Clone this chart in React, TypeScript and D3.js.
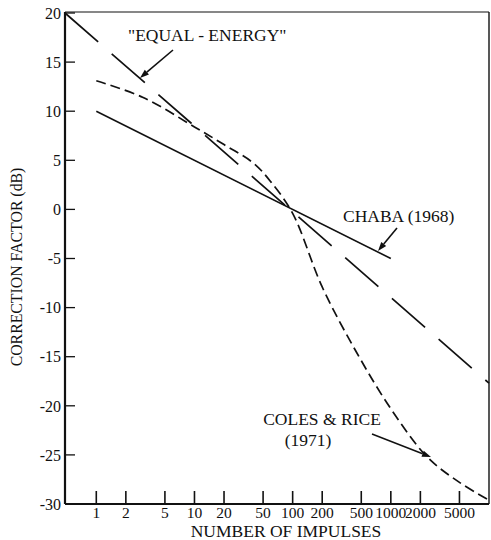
import React from 'react';
import * as d3 from 'd3';

const xTicks = [1, 2, 5, 10, 20, 50, 100, 200, 500, 1000, 2000, 5000];
const yTicks = [20, 15, 10, 5, 0, -5, -10, -15, -20, -25, -30];

const equalEnergyN = [0.48, 10000];
const equalEnergyDb = [20, -17.7];

const chabaN = [1, 1000];
const chabaDb = [10, -5];

const colesN = [1, 3, 10, 20, 40, 60, 100, 200, 450, 1000, 2340, 5000, 10000];
const colesDb = [13.1, 11.4, 8.4, 6.6, 4.7, 2.8, -0.4, -7.9, -14.6, -20.3, -25.2, -27.8, -29.6];

const W = 491;
const H = 540;
const L = 65, R = 489, T = 12, B = 504;

const FONT = '"Times New Roman", "Liberation Serif", Times, "DejaVu Serif", serif';
const INK = '#111';

export default function App() {
  const x = d3.scaleLog().domain([0.48, 10000]).range([L, R]);
  const y = d3.scaleLinear().domain([-30, 20]).range([B, T + 1]);

  const line = d3.line<[number, number]>().x(d => x(d[0])).y(d => y(d[1]));
  const curve = d3.line<[number, number]>().x(d => x(d[0])).y(d => y(d[1])).curve(d3.curveCatmullRom.alpha(0.5));

  const ee = line(equalEnergyN.map((n, i) => [n, equalEnergyDb[i]] as [number, number])) || '';
  const ch = line(chabaN.map((n, i) => [n, chabaDb[i]] as [number, number])) || '';
  const co = curve(colesN.map((n, i) => [n, colesDb[i]] as [number, number])) || '';

  const arrow = (x1: number, y1: number, x2: number, y2: number, key: string) => {
    const ang = Math.atan2(y2 - y1, x2 - x1);
    const len = 9, wid = 3.2;
    const bx = x2 - len * Math.cos(ang), by = y2 - len * Math.sin(ang);
    const px = -Math.sin(ang) * wid, py = Math.cos(ang) * wid;
    return (
      <g key={key}>
        <line x1={x1} y1={y1} x2={bx} y2={by} stroke={INK} strokeWidth={1.6} />
        <path d={`M${x2},${y2}L${bx + px},${by + py}L${bx - px},${by - py}Z`} fill={INK} />
      </g>
    );
  };

  const txt = { fontFamily: FONT, fill: INK } as const;

  return (
    <svg width={W} height={H} style={{ position: 'absolute', left: 0, top: 0, background: '#fff' }}>
      <rect x={0} y={0} width={W} height={H} fill="#fff" />
      {/* frame */}
      <line x1={L} y1={T} x2={R} y2={T} stroke={INK} strokeWidth={1.2} />
      <line x1={R} y1={T} x2={R} y2={B} stroke={INK} strokeWidth={1.4} />
      <line x1={L} y1={T} x2={L} y2={B} stroke={INK} strokeWidth={2.2} />
      <line x1={L} y1={B} x2={R} y2={B} stroke={INK} strokeWidth={2.2} />

      {/* y ticks */}
      {yTicks.map(t => (
        <g key={'y' + t}>
          <line x1={L} x2={L + 10} y1={y(t)} y2={y(t)} stroke={INK} strokeWidth={1.3} />
          <text x={61} y={y(t)} dy="0.36em" textAnchor="end" fontSize={16} style={txt}>
            {t}
          </text>
        </g>
      ))}

      {/* x ticks */}
      {xTicks.map(t => (
        <g key={'x' + t}>
          <line x1={x(t)} x2={x(t)} y1={B} y2={B - 13} stroke={INK} strokeWidth={1.6} />
          <text x={x(t)} y={518} textAnchor="middle" fontSize={15.5} style={txt}>
            {t}
          </text>
        </g>
      ))}

      {/* series */}
      <path d={ee} fill="none" stroke={INK} strokeWidth={1.7} strokeDasharray="44 18" />
      <path d={ch} fill="none" stroke={INK} strokeWidth={1.6} />
      <path d={co} fill="none" stroke={INK} strokeWidth={1.7} strokeDasharray="10 5" />

      {/* annotations */}
      <text x={128} y={41} fontSize={17.5} style={txt}>"EQUAL - ENERGY"</text>
      {arrow(173, 50, 140, 78, 'a1')}

      <text x={343} y={222} fontSize={17.5} style={txt}>CHABA (1968)</text>
      {arrow(397, 228, 378, 251, 'a2')}

      <text x={322} y={425} textAnchor="middle" fontSize={17.5} style={txt}>COLES &amp; RICE</text>
      <text x={308} y={446} textAnchor="middle" fontSize={17.5} style={txt}>(1971)</text>
      {arrow(372, 434, 431, 457, 'a3')}

      {/* axis titles */}
      <text x={286} y={537} textAnchor="middle" fontSize={17.5} style={txt}>NUMBER OF IMPULSES</text>
      <text transform="translate(22,267) rotate(-90)" textAnchor="middle" fontSize={15.8} style={txt}>
        CORRECTION FACTOR (dB)
      </text>
    </svg>
  );
}
